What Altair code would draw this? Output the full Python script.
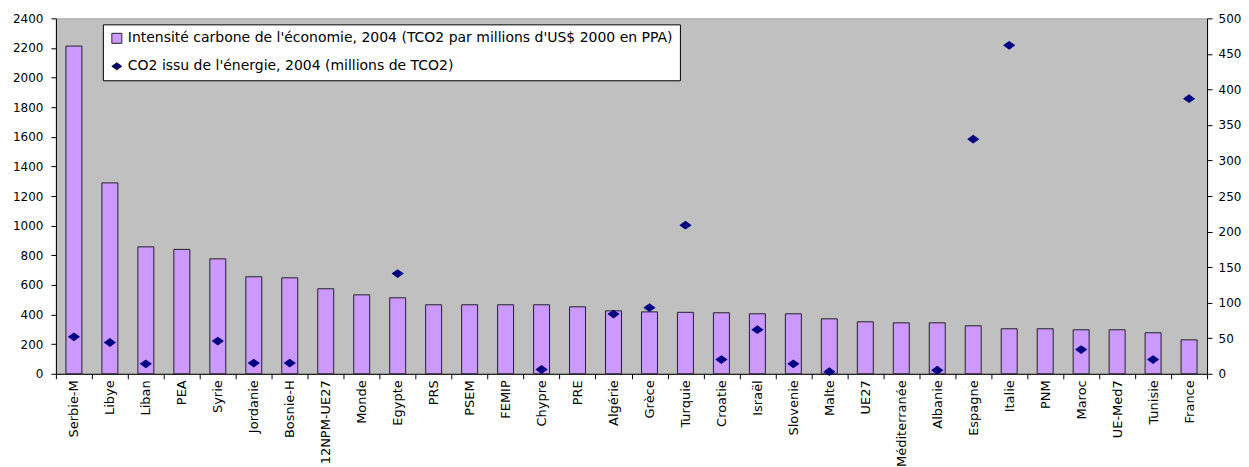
import altair as alt
import pandas as pd

categories = ["Serbie-M", "Libye", "Liban", "PEA", "Syrie", "Jordanie", "Bosnie-H",
              "12NPM-UE27", "Monde", "Egypte", "PRS", "PSEM", "FEMIP", "Chypre", "PRE",
              "Algérie", "Grèce", "Turquie", "Croatie", "Israël", "Slovenie", "Malte",
              "UE27", "Méditerranée", "Albanie", "Espagne", "Italie", "PNM", "Maroc",
              "UE-Med7", "Tunisie", "France"]

intensite = [2213, 1289, 857, 840, 776, 655, 648,
             574, 533, 513, 466, 466, 466, 466, 452,
             425, 418, 415, 412, 405, 405, 371,
             351, 344, 344, 324, 304, 304, 297,
             297, 277, 229]

co2 = [52, 44, 14, None, 46, 15, 15,
       None, None, 141, None, None, None, 6, None,
       84, 93, 209, 20, 62, 14, 3,
       None, None, 5, 330, 462, None, 34,
       None, 20, 387]

bar_name = "Intensité carbone de l'économie, 2004 (TCO2 par millions d'US$ 2000 en PPA)"
pt_name = "CO2 issu de l'énergie, 2004 (millions de TCO2)"
series_names = [bar_name, pt_name]
series_colors = ["#CC99FF", "#000080"]
series_shapes = ["square", "M -1 0 L 0 -0.72 L 1 0 L 0 0.72 Z"]

bars_df = pd.DataFrame({"pays": categories, "valeur": intensite, "serie": bar_name})
pts_df = pd.DataFrame({"pays": categories, "valeur": co2, "serie": pt_name}).dropna()

FONT = "DejaVu Sans"

x_enc = alt.X(
    "pays:N",
    sort=categories,
    scale=alt.Scale(paddingInner=0, paddingOuter=0),
    axis=alt.Axis(title=None, labelAngle=-90, tickBand="extent", tickSize=5,
                  labelPadding=1, labelFontSize=13, labelLimit=200),
)

bars = alt.Chart(bars_df).mark_bar(size=16, stroke="#222222", strokeWidth=1).encode(
    x=x_enc,
    y=alt.Y("valeur:Q",
            scale=alt.Scale(domain=[0, 2400], nice=False),
            axis=alt.Axis(title=None, orient="left", values=list(range(0, 2401, 200)),
                          format="d", tickSize=5, labelPadding=8)),
    color=alt.Color("serie:N",
                    scale=alt.Scale(domain=series_names, range=series_colors),
                    legend=None),
)

legend = alt.Legend(
    orient="none", legendX=47, legendY=6, title=None,
    fillColor="white", strokeColor="black", padding=7, rowPadding=14,
    labelFont=FONT, labelFontSize=14, labelColor="black", labelLimit=1000,
    symbolSize=100, symbolStrokeColor="#222222", symbolStrokeWidth=1, labelOffset=4,
)

points = alt.Chart(pts_df).mark_point(filled=True, size=150, opacity=1).encode(
    x=x_enc,
    y=alt.Y("valeur:Q",
            scale=alt.Scale(domain=[0, 500], nice=False),
            axis=alt.Axis(title=None, orient="right", values=list(range(0, 501, 50)),
                          format="d", tickSize=5, labelPadding=6)),
    color=alt.Color("serie:N",
                    scale=alt.Scale(domain=series_names, range=series_colors),
                    legend=legend),
    shape=alt.Shape("serie:N",
                    scale=alt.Scale(domain=series_names, range=series_shapes),
                    legend=legend),
)

chart = alt.layer(bars, points).resolve_scale(
    y="independent", color="independent", shape="independent"
).properties(
    width=1153, height=356,
    padding={"left": 4, "top": 4, "right": 0, "bottom": 0},
    background="white",
).configure_view(
    fill="#C0C0C0", stroke="#A0A0A0"
).configure_axis(
    grid=False, domainColor="black", tickColor="black", labelColor="black",
    labelFont=FONT, labelFontSize=12, domainWidth=1, tickWidth=1,
)

chart.save("out.html", embed_options={"renderer": "svg", "actions": False})
